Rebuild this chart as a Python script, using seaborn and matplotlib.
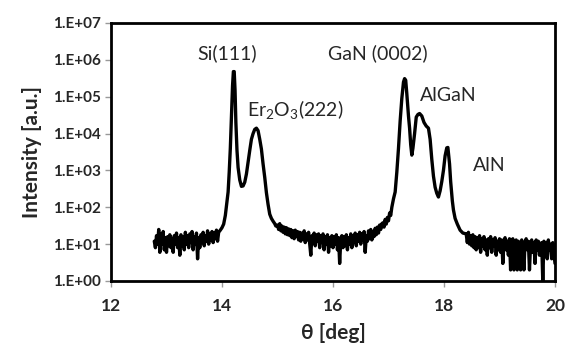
import numpy as np
import pandas as pd
import matplotlib
matplotlib.use("Agg")
import matplotlib.pyplot as plt
import matplotlib.ticker as mticker
import seaborn as sns

# ---- data ----
# noisy baseline segments: scan start, end, counts
seg_a_range = (12.78, 13.94)
seg_a_counts = [12, 8, 17, 10, 25, 6, 19, 10, 22, 7, 15, 6, 16, 9, 18, 8, 14, 6, 17, 10,
                20, 8, 15, 5, 18, 9, 16, 7, 21, 10, 17, 8, 19, 11, 22, 7, 16, 10, 20, 4,
                15, 8, 18, 11, 21, 9, 17, 12, 23, 10, 19, 13, 22, 11, 20, 14, 24, 12, 21]

# Si(111) and Er2O3(222) peaks
seg_b_theta = [13.97, 14.00, 14.03, 14.06, 14.09, 14.11, 14.13, 14.15, 14.17, 14.19, 14.205,
               14.22, 14.235, 14.25, 14.27, 14.29, 14.32, 14.35, 14.38, 14.41, 14.44, 14.47,
               14.50, 14.53, 14.56, 14.59, 14.62, 14.65, 14.68, 14.71, 14.74, 14.77, 14.80,
               14.83, 14.86, 14.89, 14.92, 14.95, 14.97]
seg_b_counts = [24, 28, 35, 60, 150, 260, 900, 4000, 30000, 200000, 480000,
                480000, 150000, 20000, 3500, 1200, 550, 370, 380, 480, 800, 1700,
                3500, 7000, 10000, 13000, 14000, 12000, 7000, 3800, 1500, 650, 250,
                120, 65, 50, 42, 36, 31]

seg_c_range = (15.00, 16.88)
seg_c_counts = [33, 25, 36, 23, 31, 21, 29, 19, 28, 18,
                26, 17, 25, 15, 23, 14, 24, 16, 22, 13,
                21, 12, 20, 14, 23, 11, 19, 13, 21, 10,
                5, 17, 11, 20, 9, 18, 12, 19, 8, 17,
                11, 19, 7, 16, 10, 18, 6, 15, 9, 17,
                8, 16, 10, 18, 7, 15, 3, 13, 17, 8,
                16, 9, 18, 7, 15, 10, 19, 8, 17, 11,
                20, 9, 18, 12, 21, 10, 19, 13, 22, 6,
                17, 12, 23, 14, 25, 13, 22, 16, 27, 18,
                29, 20, 33, 25, 36]

# GaN (0002), AlGaN and AlN peaks
seg_d_theta = [16.90, 16.92, 16.94, 16.96, 16.98, 17.00, 17.02, 17.04, 17.06, 17.09, 17.12,
               17.15, 17.18, 17.21, 17.24, 17.27, 17.29, 17.31, 17.33, 17.36, 17.38, 17.40,
               17.42, 17.44, 17.47, 17.50, 17.53, 17.56, 17.60, 17.64, 17.68, 17.72, 17.75,
               17.78, 17.81, 17.84, 17.87, 17.90, 17.93, 17.96, 17.99, 18.02, 18.05, 18.07,
               18.10, 18.12, 18.15, 18.17, 18.20, 18.24, 18.29, 18.34]
seg_d_counts = [38, 29, 47, 35, 53, 43, 70, 60, 100, 170, 260,
                900, 4000, 22000, 90000, 250000, 310000, 280000, 120000, 30000, 14000, 5000,
                2600, 4000, 10000, 28000, 33000, 35000, 30000, 20000, 16000, 14000, 7000,
                2000, 700, 350, 240, 190, 280, 500, 1000, 2500, 4100, 4200,
                1500, 500, 150, 85, 50, 35, 24, 20]

seg_e_range = (18.40, 20.00)
seg_e_counts = [19, 11, 21, 10, 17, 9, 18, 8, 16, 7,
                15, 8, 17, 6, 14, 9, 16, 7, 13, 5,
                14, 8, 16, 6, 13, 9, 15, 5, 12, 7,
                14, 6, 13, 3, 11, 15, 7, 12, 5, 14,
                2, 11, 14, 2, 10, 13, 2, 12, 7, 2,
                13, 6, 2, 11, 14, 7, 12, 2, 10, 13,
                6, 11, 3, 13, 7, 12, 5, 10, 11, 1,
                12, 6, 11, 4, 13, 7, 10, 4, 11, 6,
                3]

peak_labels = ["Si(111)", "Er$_2$O$_3$(222)", "GaN (0002)", "AlGaN", "AlN"]
peak_label_theta = [14.10, 15.33, 16.81, 18.07, 18.81]
peak_label_int = [1.5e6, 4.6e4, 1.5e6, 1.05e5, 1.38e3]

x_ticks = [12, 14, 16, 18, 20]
y_exps = [0, 1, 2, 3, 4, 5, 6, 7]

# ---- assemble ----
def grid(rng, counts):
    return list(np.linspace(rng[0], rng[1], len(counts)))

theta = (grid(seg_a_range, seg_a_counts) + seg_b_theta + grid(seg_c_range, seg_c_counts)
         + seg_d_theta + grid(seg_e_range, seg_e_counts))
counts = seg_a_counts + seg_b_counts + seg_c_counts + seg_d_counts + seg_e_counts
df = pd.DataFrame({"theta": theta, "intensity": counts})

sns.set_style("white")
plt.rcParams["font.family"] = ["Lato", "DejaVu Sans"]
plt.rcParams["mathtext.fontset"] = "custom"
plt.rcParams["mathtext.rm"] = "Lato"
plt.rcParams["mathtext.it"] = "Lato"

fig = plt.figure(figsize=(5.70, 3.47), dpi=100)
ax = fig.add_axes([111 / 570, 1 - 281 / 347, (555 - 111) / 570, (281 - 23) / 347])

sns.lineplot(data=df, x="theta", y="intensity", ax=ax, color="black", linewidth=2.4,
             sort=False, estimator=None)

ax.set_yscale("log")
ax.set_xlim(12, 20)
ax.set_ylim(1, 1e7)
ax.set_xticks(x_ticks)
ax.set_xticklabels([str(t) for t in x_ticks])
ax.yaxis.set_major_locator(mticker.FixedLocator([10.0 ** e for e in y_exps]))
ax.yaxis.set_major_formatter(mticker.FixedFormatter([f"1.E+{e:02d}" for e in y_exps]))
ax.yaxis.set_minor_locator(mticker.NullLocator())

for lab in ax.get_yticklabels():
    lab.set_fontweight("bold")
    lab.set_fontsize(11)
for lab in ax.get_xticklabels():
    lab.set_fontweight("bold")
    lab.set_fontsize(12.5)

ax.tick_params(axis="both", which="major", direction="out", length=4, width=1,
               color="#999999", left=True, bottom=True, pad=3)
ax.tick_params(axis="x", pad=8)

for s in ax.spines.values():
    s.set_visible(True)
    s.set_color("black")
    s.set_linewidth(2.0)

ax.set_xlabel("θ [deg]", fontsize=15, fontweight="bold", labelpad=7)
ax.set_ylabel("Intensity [a.u.]", fontsize=15, fontweight="bold", labelpad=8)

for txt, tx, ty in zip(peak_labels, peak_label_theta, peak_label_int):
    ax.text(tx, ty, txt, ha="center", va="center", fontsize=14)

ax.grid(False)
fig.savefig("out.png", dpi=100)
